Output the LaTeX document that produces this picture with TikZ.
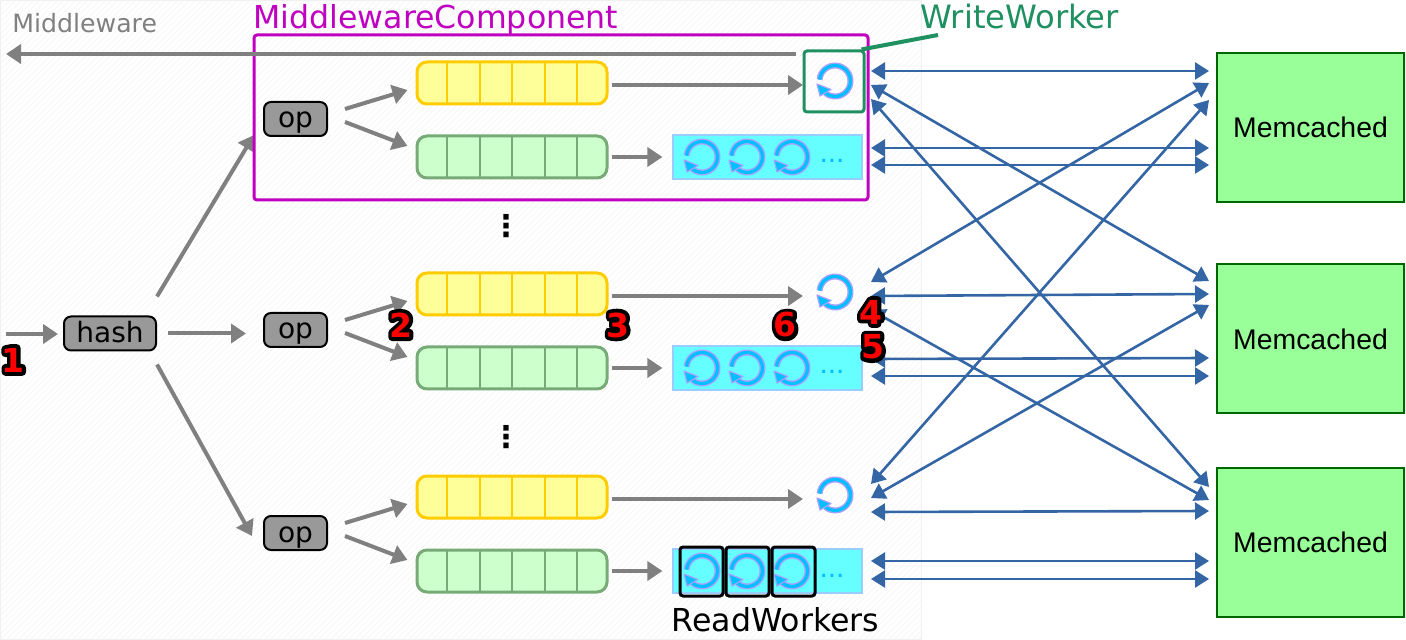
\documentclass[tikz,border=0pt]{standalone}
\usepackage{fontspec}
\usepackage{xcolor}
\setmainfont{DejaVu Sans}
\newfontfamily\memfont{Liberation Sans}
\usetikzlibrary{
    arrows.meta,
    patterns
}
\definecolor{flowgray}{HTML}{808080}
\definecolor{linkblue}{HTML}{3465A4}
\definecolor{compmagenta}{HTML}{C000C0}
\definecolor{writegreen}{HTML}{1F9060}
\definecolor{spinblue}{HTML}{00BFFF}
\definecolor{spinedge}{HTML}{AAA0FF}
\definecolor{wqedge}{HTML}{FFCC00}
\definecolor{wqfill}{HTML}{FFFF99}
\definecolor{rqedge}{HTML}{77AA77}
\definecolor{rqfill}{HTML}{CCFFCC}
\definecolor{poolfill}{HTML}{66FFFF}
\definecolor{pooledge}{HTML}{99CCFF}
\newcommand{\outlinednum}[1]{\makebox[0pt]{\color{black}\special{pdf:code 2 Tr 3.8 w 1 j}#1\special{pdf:code 0 Tr 1 w 0 j}}\makebox[0pt]{\color{red}#1}}
\tikzset{
    flow/.style={draw=flowgray, line width=2pt, -{Triangle[length=7.5pt, width=9.5pt]}},
    memlink/.style={draw=linkblue, line width=1.3pt, {Triangle[length=7pt, width=8.5pt]}-{Triangle[length=7pt, width=8.5pt]}},
    opbox/.style={draw=black, fill=black!40, line width=1pt, rounded corners=3.5pt, inner sep=0pt, minimum height=17pt, text height=10pt, text depth=1pt, font=\fontsize{14}{14}\selectfont},
    queuebox/.style={line width=1.5pt, rounded corners=5pt, inner sep=0pt, minimum width=95pt, minimum height=21pt},
    writeq/.style={queuebox, draw=wqedge, fill=wqfill},
    readq/.style={queuebox, draw=rqedge, fill=rqfill},
    pool/.style={draw=pooledge, fill=poolfill, line width=.6pt, inner sep=0pt, minimum width=94.5pt, minimum height=22pt},
    membox/.style={draw=green!40!black, fill=green!40!white, line width=1pt, inner sep=0pt, minimum width=93.5pt, minimum height=74.5pt, font=\memfont\fontsize{14.2}{14.2}\selectfont},
    badge/.style={inner sep=0pt, font=\bfseries\fontsize{16.5}{16.5}\selectfont},
    spinner/.pic={
        \draw[draw=spinedge, line width=3pt] (-175:15.5) arc[start angle=-175, end angle=130, radius=15.5];
        \draw[draw=spinblue, line width=1.6pt] (-175:15.5) arc[start angle=-175, end angle=130, radius=15.5];
        \draw[draw=spinedge, fill=spinblue, line width=.6pt, line join=round] (-18, 3) -- (-4, 8.5) -- (-15, 15) -- cycle;
    }
}
\begin{document}
\begin{tikzpicture}[x=.5pt, y=-.5pt]
    \useasboundingbox (0, 0) rectangle (1406, 640);
    \draw[draw=black!6, pattern=north east lines, pattern color=black!3] (0, 0) rectangle (921, 639);

    \node[opbox, minimum width=46pt] (hash) at (110, 333.5) {hash};
    \coordinate (input) at (6, 334);
    \draw[flow] (input) -- ([shift={(-5, .5)}]hash.west);

    \foreach \r/\d in {1/0, 2/211, 3/414} {
        \node[opbox, minimum width=31.5pt] (op\r) at (295.5, 119+\d) {op};
        \node[writeq] (wq\r) at (512, 83+\d) {};
        \node[readq] (rq\r) at (512, 157+\d) {};
        \foreach \x in {447, 480, 512, 545, 577} {
            \draw[draw=wqedge, line width=1pt] (\x, 62+\d) -- (\x, 104+\d);
            \draw[draw=rqedge, line width=1pt] (\x, 136+\d) -- (\x, 178+\d);
        }
        \node[pool] (pool\r) at (767.5, 157+\d) {};
        \coordinate (wk\r) at (835, 81+\d);
        \pic at (wk\r) {spinner};
        \foreach \x in {702, 747, 792} {
            \pic at (\x, 157+\d) {spinner};
        }
        \node[inner sep=0pt, anchor=base, text=spinblue, font=\memfont\fontsize{15}{15}\selectfont] (more\r) at (832, 163+\d) {...};
        \draw[flow] ([shift={(17, -10)}]op\r.east) -- ([shift={(-8, 7)}]wq\r.west);
        \draw[flow] ([shift={(17, 3)}]op\r.east) -- ([shift={(-8, -11)}]rq\r.west);
        \draw[flow] ([shift={(3, 2)}]wq\r.east) -- ([shift={(-32, 4)}]wk\r);
        \draw[flow] ([shift={(3, 0)}]rq\r.east) -- ([shift={(-10, 0)}]pool\r.west);
    }

    \draw[flow] ([shift={(0, -19)}]hash.north east) -- ([shift={(-9, 16)}]op1.west);
    \draw[flow] ([shift={(11, 0)}]hash.east) -- ([shift={(-17, 3.5)}]op2.west);
    \draw[flow] ([shift={(0, 13)}]hash.south east) -- ([shift={(-11, 3)}]op3.west);

    \node[draw=compmagenta, line width=1.5pt, rounded corners=1.5pt, inner sep=0pt, minimum width=307pt, minimum height=82.5pt] (comp) at (561, 117.5) {};
    \node[anchor=base west, inner sep=0pt, text=compmagenta, font=\fontsize{15.8}{15.8}\selectfont] (complabel) at (253, 29) {MiddlewareComponent};

    \node[anchor=base west, inner sep=0pt, text=flowgray, font=\fontsize{12.6}{12.6}\selectfont] (mwlabel) at (12, 33) {Middleware};
    \coordinate (mwstart) at (796, 54);
    \coordinate (mwend) at (6, 54);
    \draw[flow] (mwstart) -- (mwend);

    \node[draw=writegreen, line width=1.5pt, rounded corners=1.5pt, inner sep=0pt, minimum width=30pt, minimum height=30.5pt] (wbox) at (834, 81.5) {};
    \node[anchor=base west, inner sep=0pt, text=writegreen, font=\fontsize{16.1}{16.1}\selectfont] (wlabel) at (920, 29) {WriteWorker};
    \coordinate (wend) at (938, 35);
    \draw[draw=writegreen, line width=2pt] ([shift={(-4, 0)}]wbox.north east) -- (wend);

    \node[inner sep=0pt, font=\bfseries\fontsize{15}{15}\selectfont] (dots1) at (506, 226) {⋮};
    \node[inner sep=0pt, font=\bfseries\fontsize{15}{15}\selectfont] (dots2) at (506, 437) {⋮};

    \foreach \x/\n in {701.5/1, 747.5/2, 793.5/3} {
        \node[draw=black, line width=1.5pt, rounded corners=1.5pt, inner sep=0pt, minimum width=21.5pt, minimum height=24.5pt] (rbox\n) at (\x, 571.5) {};
    }
    \node[anchor=base, inner sep=0pt, font=\fontsize{15.8}{15.8}\selectfont] (rlabel) at (775.5, 631) {ReadWorkers};

    \node[membox] (mem1) at (1310.5, 127.5) {Memcached};
    \node[membox] (mem2) at (1310.5, 339) {Memcached};
    \node[membox] (mem3) at (1310.5, 542) {Memcached};

    \foreach \w/\dw/\m/\dm in {
        wk1/-10/mem1/-56.5, wk1/4/mem2/-58, wk1/18/mem3/-55, wk1/67/mem1/20.5, wk1/84/mem1/37.5,
        wk2/-10/mem1/-44.5, wk2/4/mem2/-45, wk2/18/mem3/-42, wk2/67/mem2/19, wk2/84/mem2/37,
        wk3/-11/mem1/-27.5, wk3/3/mem2/-34, wk3/17/mem3/-31, wk3/66/mem3/19, wk3/84/mem3/37
    } {
        \draw[memlink] ([shift={(36, \dw)}]\w) -- ([shift={(-7, \dm)}]\m.west);
    }

    \foreach \n/\x/\y in {1/13/360, 2/401/325, 3/618/325, 6/785/325, 4/871/312, 5/873/347} {
        \node[badge] (num\n) at (\x, \y) {\outlinednum{\n}};
    }
\end{tikzpicture}
\end{document}
